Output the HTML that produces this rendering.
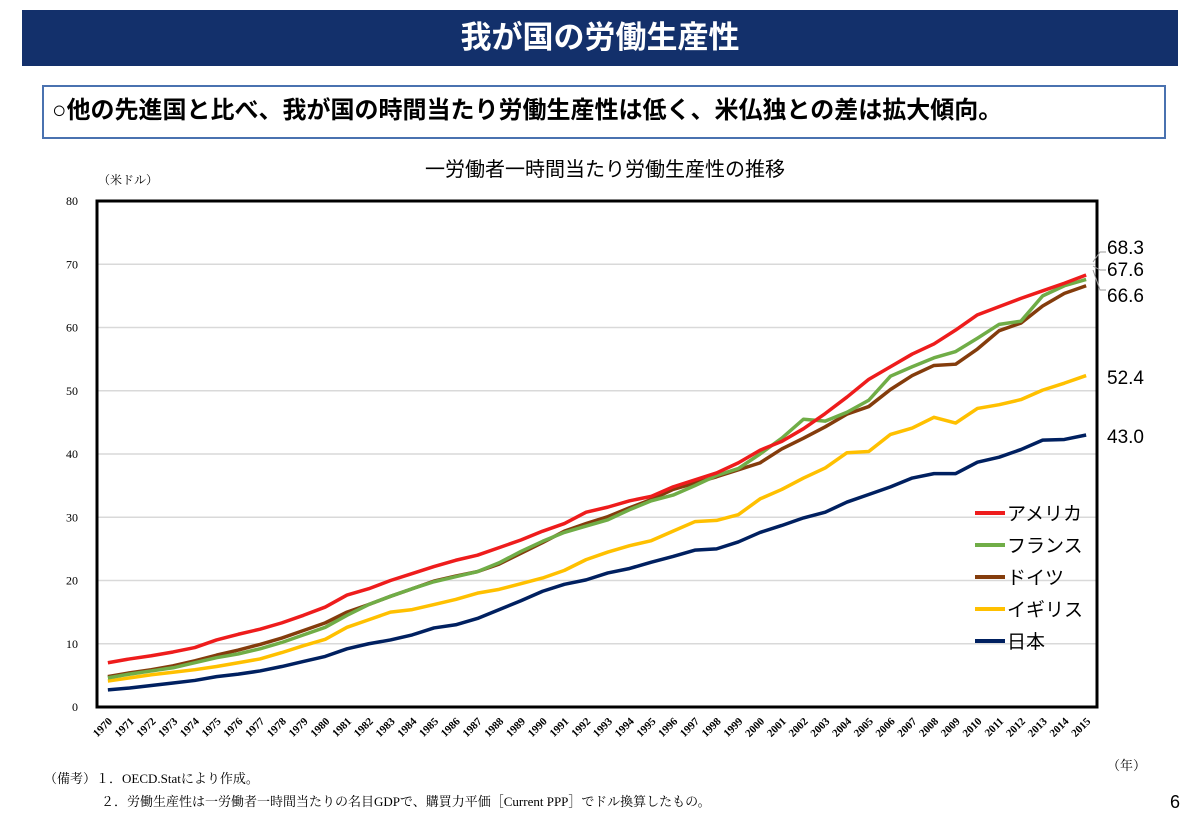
<!DOCTYPE html>
<html><head><meta charset="utf-8"><style>
body{margin:0;width:1200px;height:831px;background:#fff;position:relative;overflow:hidden;font-family:"Liberation Sans","Noto Sans CJK JP",sans-serif}
.abs{position:absolute}
</style></head><body>
<div class="abs" style="left:22px;top:10px;width:1156px;height:56px;background:#13306b;color:#fff;font-size:31px;font-weight:bold;text-align:center;line-height:56px">我が国の労働生産性</div>
<div class="abs" style="left:42px;top:85px;width:1112px;height:50px;border:2px solid #4a72b0;font-size:24px;font-weight:bold;line-height:48px;padding-left:8px;box-sizing:content-box">○他の先進国と比べ、我が国の時間当たり労働生産性は低く、米仏独との差は拡大傾向。</div>
<svg class="abs" style="left:0;top:0" width="1200" height="831">
<text x="605" y="176" text-anchor="middle" font-size="20" font-family="Liberation Sans, Noto Sans CJK JP, sans-serif">一労働者一時間当たり労働生産性の推移</text>
<text x="98" y="184" font-size="12" font-family="Liberation Serif, Noto Serif CJK SC, serif">（米ドル）</text>
<g id="grid"></g><g id="lines"></g><g id="labels"></g>
<rect x="97" y="201" width="1000" height="506" fill="none" stroke="#000" stroke-width="3"/>
<text x="1107" y="770" font-size="13" font-family="Liberation Serif, Noto Serif CJK SC, serif">（年）</text>
<g id="legend"></g>
<path d="M1093 262 L1100 252 L1106 252 M1093 266 L1100 270 L1106 270 M1093 270 L1100 290 L1106 290" fill="none" stroke="#999" stroke-width="1"/>
</svg>
<div class="abs" style="left:44px;top:768px;font-size:13px;font-family:'Liberation Serif','Noto Serif CJK SC',serif">（備考）１．OECD.Statにより作成。</div>
<div class="abs" style="left:101px;top:791px;font-size:13px;font-family:'Liberation Serif','Noto Serif CJK SC',serif">２．労働生産性は一労働者一時間当たりの名目GDPで、購買力平価［Current PPP］でドル換算したもの。</div>
<div class="abs" style="left:1170px;top:792px;font-size:18px">6</div>
<script>
const years=[];for(let y=1970;y<=2015;y++)years.push(String(y));
const yTicks=[0,10,20,30,40,50,60,70,80];
const usa=[7.0,7.6,8.1,8.7,9.4,10.6,11.5,12.3,13.3,14.5,15.8,17.7,18.7,20.0,21.1,22.2,23.2,24.0,25.2,26.4,27.8,29.0,30.8,31.6,32.6,33.3,34.8,35.9,37.0,38.6,40.6,42.0,44.0,46.4,49.0,51.8,53.8,55.8,57.4,59.6,62.0,63.3,64.6,65.8,67.0,68.3];
const france=[4.6,5.2,5.7,6.2,7.0,7.8,8.4,9.2,10.2,11.4,12.6,14.5,16.2,17.5,18.7,19.8,20.6,21.4,22.8,24.6,26.2,27.6,28.6,29.6,31.2,32.6,33.5,35.0,36.6,37.7,40.0,42.5,45.5,45.2,46.6,48.5,52.3,53.8,55.2,56.2,58.3,60.5,61.0,65.0,66.6,67.6];
const germany=[4.8,5.4,5.9,6.5,7.3,8.2,9.0,9.9,10.9,12.1,13.3,15.0,16.2,17.5,18.7,19.9,20.7,21.4,22.6,24.3,26.0,27.8,29.0,30.1,31.5,32.8,34.4,35.4,36.4,37.5,38.6,40.8,42.5,44.3,46.3,47.5,50.2,52.4,54.0,54.2,56.6,59.5,60.7,63.4,65.4,66.6];
const uk=[4.1,4.6,5.1,5.5,5.9,6.4,7.0,7.6,8.6,9.7,10.7,12.6,13.8,15.0,15.4,16.2,17.0,18.0,18.6,19.5,20.4,21.6,23.3,24.5,25.5,26.3,27.8,29.3,29.5,30.4,32.9,34.4,36.2,37.8,40.2,40.4,43.1,44.1,45.8,44.9,47.2,47.8,48.6,50.1,51.2,52.4];
const japan=[2.7,3.0,3.4,3.8,4.2,4.8,5.2,5.7,6.4,7.2,8.0,9.2,10.0,10.6,11.4,12.5,13.0,14.0,15.4,16.8,18.3,19.4,20.1,21.2,21.9,22.9,23.8,24.8,25.0,26.1,27.6,28.7,29.9,30.8,32.4,33.6,34.8,36.2,36.9,36.9,38.7,39.5,40.7,42.2,42.3,43.0];
const seriesNames=["アメリカ","フランス","ドイツ","イギリス","日本"];
const endLabels=["68.3","67.6","66.6","52.4","43.0"];
const NS="http://www.w3.org/2000/svg";
const X0=97,W=1000,Y0=707,H=506;
const xs=i=>X0+W/years.length*(i+0.5);
const ys=v=>Y0-v/80*H;
function mk(t,a,p){const e=document.createElementNS(NS,t);for(const k in a)e.setAttribute(k,a[k]);p.appendChild(e);return e;}
const grid=document.getElementById('grid'),lines=document.getElementById('lines'),labels=document.getElementById('labels'),legend=document.getElementById('legend');
yTicks.forEach(t=>{
 const l=mk('line',{x1:X0,x2:X0+W,y1:ys(t),y2:ys(t),stroke:'#d9d9d9','stroke-width':1.5},grid);
 
 
 const tx=mk('text',{x:78,y:ys(t)+4,'text-anchor':'end','font-size':12,'font-family':'Liberation Serif, serif'},grid);
 tx.textContent=t;
 
 
});
years.forEach((y,i)=>{
 const tx=mk('text',{x:xs(i)+5,y:722,'text-anchor':'end','font-size':11,'font-weight':'bold','font-family':'Liberation Serif, serif',transform:`rotate(-45 ${xs(i)+5} 722)`},grid);
 tx.textContent=y;
 
 
});
const data=[usa,france,germany,uk,japan];
const colors=['#ee1c1c','#70ad47','#843c0c','#ffc000','#002060'];
const labY=[247,269,295,377,436];
[4,3,2,1,0].forEach(k=>{
 const p=mk('polyline',{points:data[k].map((v,i)=>xs(i)+','+ys(v)).join(' '),fill:'none',stroke:colors[k],'stroke-width':3.5,'stroke-linejoin':'round'},lines);
 
 
});
data.forEach((d,k)=>{
 const tx=mk('text',{x:1107,y:labY[k]+7,'font-size':19},labels);
 tx.textContent=endLabels[k];
 
 
 const ly=513+k*32;
 const l=mk('line',{x1:975,x2:1005,y1:ly,y2:ly,stroke:colors[k],'stroke-width':4},legend);
 
 
 const t=mk('text',{x:1007,y:ly+7,'font-size':19},legend);
 t.textContent=seriesNames[k];
 
 
});
</script>
</body></html>
